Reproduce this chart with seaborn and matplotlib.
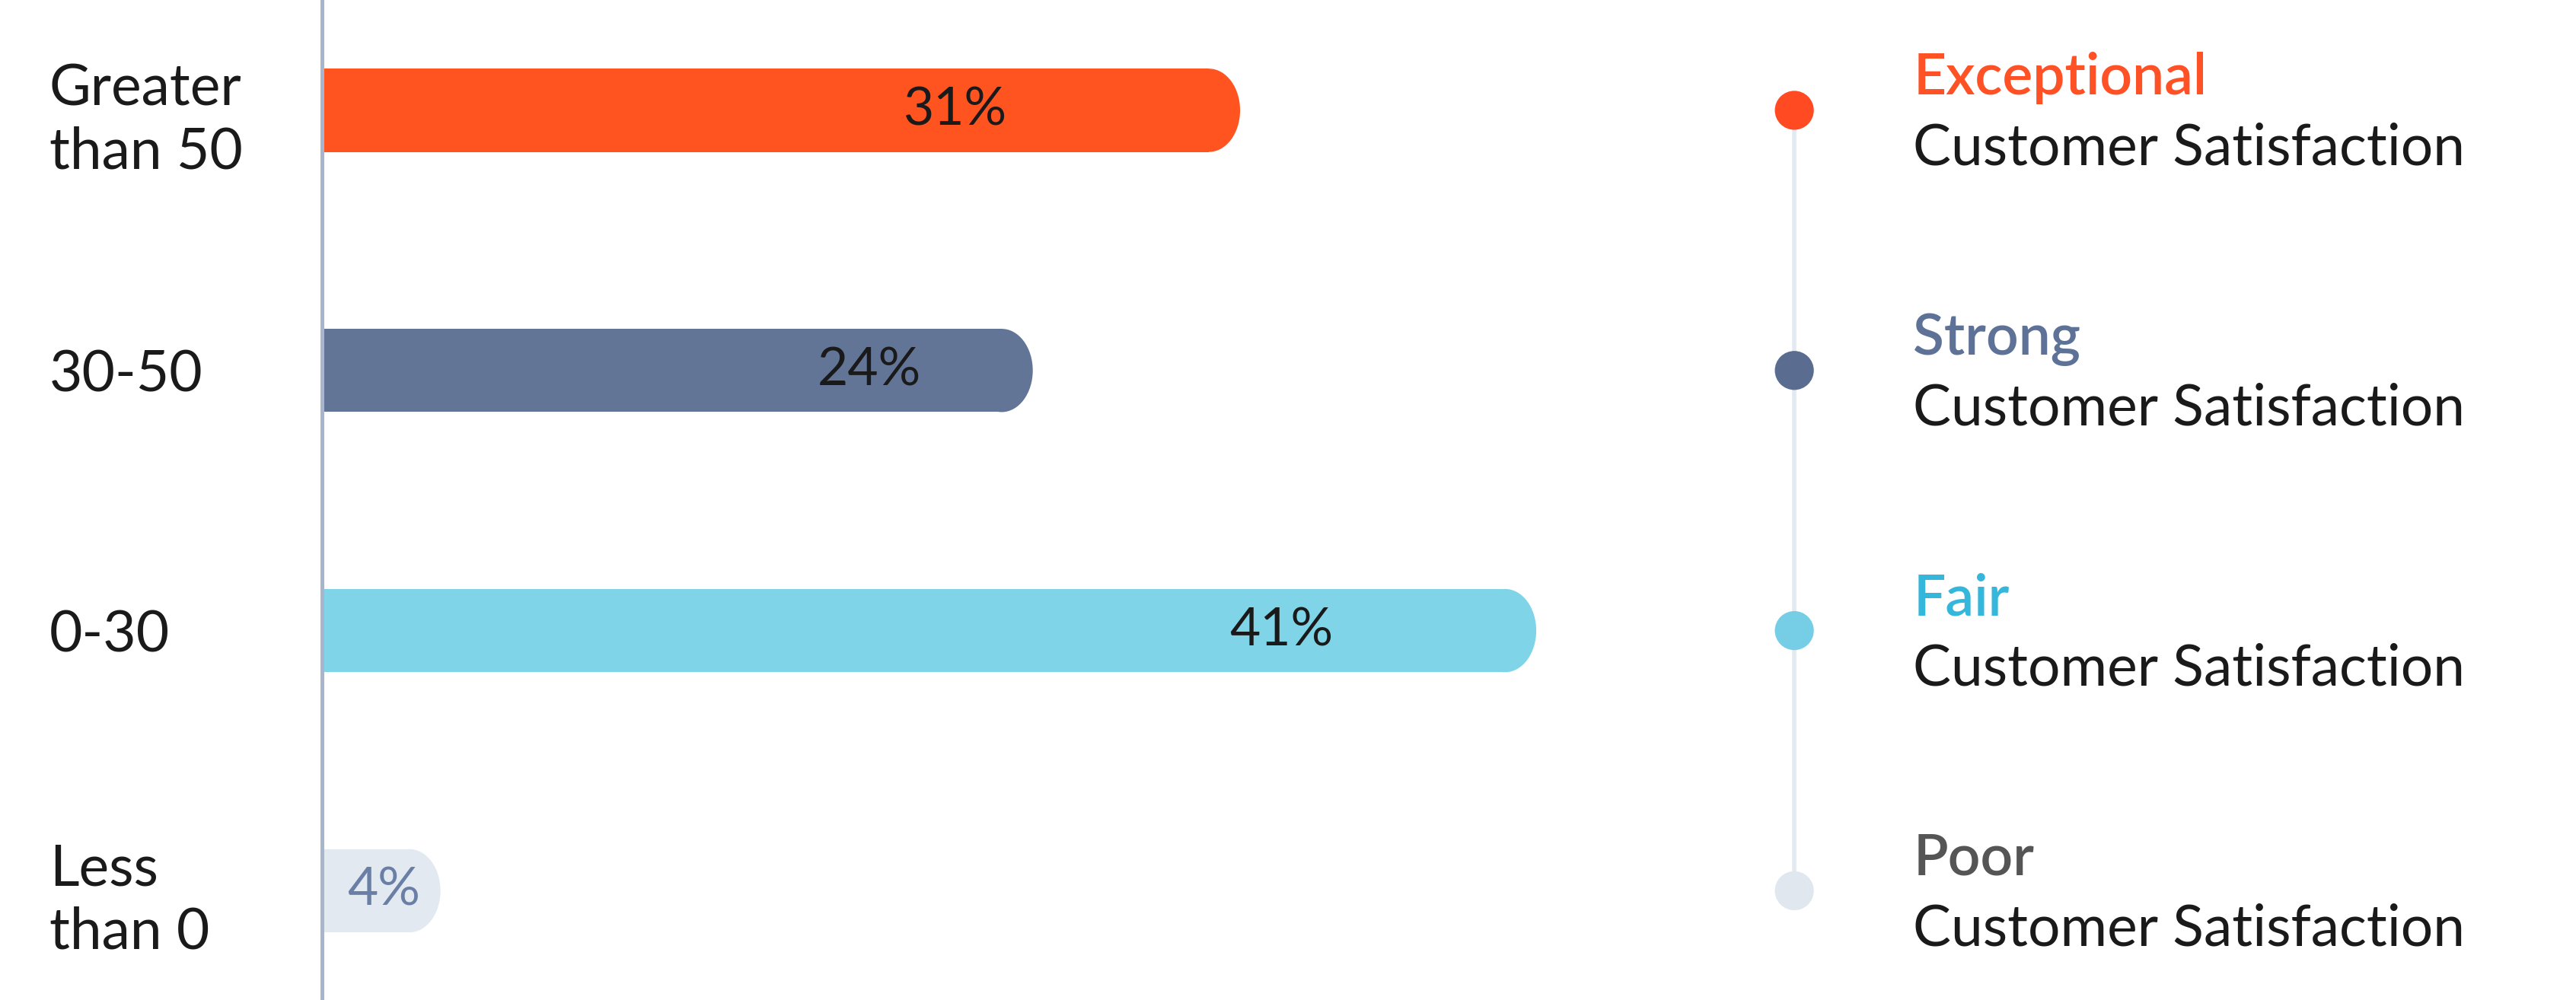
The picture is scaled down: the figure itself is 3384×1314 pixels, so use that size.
import pandas as pd
import seaborn as sns
import matplotlib.pyplot as plt
from matplotlib.patches import Ellipse

# dados do gráfico
faixas = ["Greater\nthan 50", "30-50", "0-30", "Less\nthan 0"]
percentuais = [31, 24, 41, 4]
rotulos = ["31%", "24%", "41%", "4%"]
niveis = ["Exceptional", "Strong", "Fair", "Poor"]
subtitulo = "Customer Satisfaction"

# cores
cores_barras = ["#FF5420", "#627597", "#7FD4E8", "#E3E9F1"]
cores_pontos = ["#FF4A22", "#5A6C90", "#76CEE6", "#E1E7EF"]
cores_titulos = ["#FF5126", "#5E7297", "#35B6DB", "#555555"]
cores_rotulos = ["#1A1A1A", "#1A1A1A", "#1A1A1A", "#6A7FA5"]
pos_rotulos = [0.69, 0.77, 0.79, 0.52]

sns.set_style("white")
plt.rcParams['font.family'] = ['Lato', 'DejaVu Sans']

fig = plt.figure(figsize=(16.92, 6.57), dpi=200)
ax = fig.add_axes([0.125, 0.0, 0.53, 1.0])

xmax = 46.1
ylim = (3.42, -0.424)

dados = pd.DataFrame({'Faixa': faixas, 'Percentual': percentuais})
sns.barplot(data=dados, x='Percentual', y='Faixa', hue='Faixa', palette=cores_barras,
            width=0.32, saturation=1, legend=False, ax=ax)
ax.set_xlim(0, xmax)
ax.set_ylim(*ylim)

# ponta arredondada (meia elipse) no fim de cada barra
a = 1.05
for barra in list(ax.patches):
    y, h = barra.get_y(), barra.get_height()
    w = barra.get_width()
    barra.set_width(w - a)
    barra.set_edgecolor('none')
    ax.add_patch(Ellipse((w - a, y + h / 2), 2 * a, h,
                         facecolor=barra.get_facecolor(), edgecolor='none'))

# rótulos dentro das barras
for i, v in enumerate(percentuais):
    ax.text(v * pos_rotulos[i], i, rotulos[i], ha='center', va='center',
            fontsize=25, color=cores_rotulos[i])

ax.set_yticks(range(len(faixas)))
ax.set_yticklabels(faixas, ha='left', fontsize=27, color="#1A1A1A", linespacing=1.25)
ax.tick_params(axis='y', length=0, pad=129)
ax.set_xticks([])
ax.set_xlabel('')
ax.set_ylabel('')
for lado in ['top', 'right', 'bottom']:
    ax.spines[lado].set_visible(False)
ax.spines['left'].set_color("#A9B5CC")
ax.spines['left'].set_linewidth(1.8)

# legenda à direita
ax2 = fig.add_axes([0.65, 0.0, 0.35, 1.0])
x_ponto = 0.133
x_texto = 0.265
legenda = pd.DataFrame({'Nivel': niveis, 'x': [x_ponto] * 4, 'y': range(4)})
ax2.plot([x_ponto, x_ponto], [0, 3], color="#E3E9F1", linewidth=2, zorder=1)
sns.scatterplot(data=legenda, x='x', y='y', hue='Nivel', palette=cores_pontos,
                s=340, linewidth=0, legend=False, ax=ax2, zorder=2)
ax2.set_xlim(0, 1)
ax2.set_ylim(*ylim)
ax2.axis('off')

for i, nivel in enumerate(niveis):
    ax2.text(x_texto, i - 0.06, nivel, ha='left', va='baseline', fontsize=27,
             fontweight='semibold', color=cores_titulos[i])
    ax2.text(x_texto, i + 0.21, subtitulo, ha='left', va='baseline', fontsize=27,
             color="#1A1A1A")

plt.savefig('out.png', dpi=200)
